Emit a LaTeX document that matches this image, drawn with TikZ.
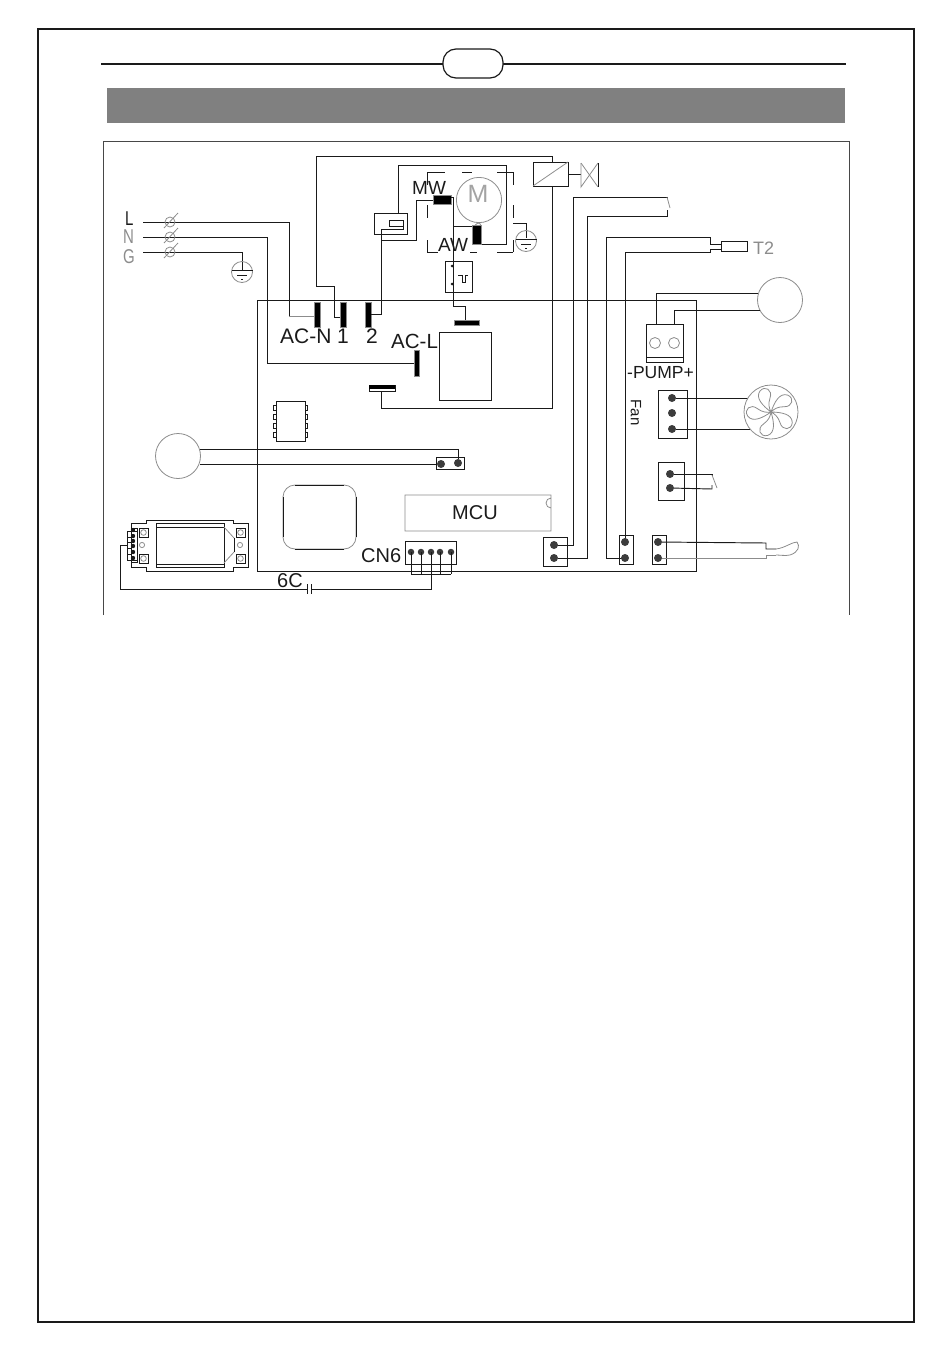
\documentclass[tikz,border=0pt]{standalone}
\usepackage{fontspec}
\setmainfont{Liberation Sans}
\definecolor{wire}{HTML}{1A1A1A}
\definecolor{thin}{HTML}{8C8C8C}
\tikzset{
    wirepath/.style={draw=wire,line width=0.95pt},
    graypath/.style={draw=thin,line width=0.8pt},
    plug/.style={draw=thin,fill=black,line width=0.5pt},
    pin/.style={circle,fill=wire!85,inner sep=0pt,minimum size=8pt},
    smallpin/.style={circle,fill=wire!85,inner sep=0pt,minimum size=6.5pt},
    label/.style={inner sep=0pt,anchor=base west,font=\fontsize{20}{20}\selectfont,text=wire},
    graylabel/.style={label,text=thin},
    mainslabel/.style={label,font=\fontsize{20}{20}\selectfont,xscale=0.75,transform shape},
    ground/.pic={
        \draw[graypath] (0,0) circle (10.5);
        \draw[wirepath] (-10.5,-1.5) -- (10.5,-1.5);
        \draw[wirepath] (-5,3.5) -- (5,3.5);
        \draw[wirepath] (-1,7) -- (1,7);
    },
    clamp/.pic={
        \draw[graypath] (0,0) circle (5);
        \draw[graypath] (-6,6) -- (8,-9);
    }
}
\begin{document}
\begin{tikzpicture}[x=1pt,y=-1pt]
    \useasboundingbox (0,0) rectangle (950,1352);
    % Page frame and header
    \draw[wirepath,line width=1.8pt] (38,29) rectangle (914,1322);
    \draw[wirepath,line width=1.8pt] (101,64) -- (846,64);
    \draw[wirepath,fill=white,line width=1.2pt,rounded corners=13pt] (443,49) rectangle (503,78);
    \fill[gray] (107,88) rectangle (845,123);
    \draw[wire!80,line width=0.8pt] (103,615) -- (103,141) -- (849,141) -- (849,615);

    % Mains
    \node[mainslabel] (lineL) at (125,225) {L};
    \node[mainslabel,text=thin] (lineN) at (123,243.5) {N};
    \node[mainslabel,text=thin] (lineG) at (123,263) {G};
    \draw[wirepath] (143,222) -- (289,222) -- (289,316);
    \draw[graypath] (289,316) -- (315,316);
    \draw[wirepath] (143,237) -- (267,237) -- (267,363) -- (414,363);
    \draw[wirepath] (143,252) -- (242,252) -- (242,270);
    \pic at (170,222) {clamp};
    \pic at (170,237) {clamp};
    \pic at (170,252) {clamp};
    \pic at (242,272) {ground};

    % Board
    \draw[wirepath] (257,571) -- (257,300) -- (696,300) -- (696,571) -- cycle;
    \draw[plug] (314,302) rectangle (320.5,327);
    \draw[plug] (340,302) rectangle (346,327);
    \draw[plug] (365,302) rectangle (371,327);
    \draw[plug] (414,350) rectangle (419,376);
    \draw[wirepath,line width=0.6pt] (369,385) rectangle (395,391);
    \fill[black] (369,385) rectangle (395,389);
    \draw[plug] (454,320) rectangle (479,325);
    \node[label,font=\fontsize{21}{21}\selectfont] (acn) at (280,343) {AC-N};
    \node[label,font=\fontsize{21}{21}\selectfont] (one) at (337,343) {1};
    \node[label,font=\fontsize{21}{21}\selectfont] (two) at (366,343) {2};
    \node[label,font=\fontsize{20.5}{21}\selectfont] (acl) at (391,348) {AC-L};
    \draw[wirepath] (439,332) rectangle (491,400);

    % Motor
    \draw[wirepath] (316,156) -- (552,156) -- (552,162);
    \draw[wirepath] (316,156) -- (316,286) -- (334,286) -- (334,317) -- (340,317);
    \draw[wirepath] (533,162) rectangle (568,186);
    \draw[graypath] (533,186) -- (568,162);
    \draw[wirepath] (568,174) -- (581,174);
    \draw[graypath] (581,163) -- (581,187) -- (598,163);
    \draw[graypath] (581,163) -- (598,187);
    \draw[wirepath] (598,163) -- (598,187);
    \draw[wirepath] (552,186) -- (552,408) -- (381,408) -- (381,391);
    \draw[wirepath] (398,213) -- (398,165) -- (506,165) -- (506,244) -- (481,244);
    \draw[wirepath] (374,213) rectangle (407,234);
    \draw[wirepath] (389,220) rectangle (403,226);
    \draw[wirepath] (371,314) -- (381,314) -- (381,229) -- (403,229) -- (403,226);
    \draw[wirepath] (433,200) -- (416,200) -- (416,240) -- (381,240);
    \foreach \xa/\xb in {427/445,462/472,497/513} \draw[wirepath] (\xa,172) -- (\xb,172);
    \foreach \xa/\xb in {427/438,470/477,497/513} \draw[wirepath] (\xa,252) -- (\xb,252);
    \foreach \ya/\yb in {172/185,205/218,240/252} {
        \draw[wirepath] (427,\ya) -- (427,\yb);
        \draw[wirepath] (513,\ya) -- (513,\yb);
    }
    \draw[graypath] (479,200) circle (22.6);
    \node[graylabel,text=thin!80,anchor=center,font=\fontsize{25}{25}\selectfont] (motorM) at (478,194) {M};
    \draw[plug] (433,195) rectangle (451,204);
    \draw[plug] (472,225) rectangle (481,244);
    \draw[wirepath] (451,197) -- (453,197) -- (453,306) -- (465,306) -- (465,320);
    \draw[wirepath] (453,226) -- (472,226);
    \draw[graypath] (481,226) arc[start angle=180,end angle=20,x radius=-3,y radius=-3];
    \node[label,font=\fontsize{19}{19}\selectfont] (mwlabel) at (412,194) {MW};
    \node[label,font=\fontsize{19}{19}\selectfont] (awlabel) at (438,251) {AW};
    \draw[wirepath] (513,223) -- (526,223) -- (526,238);
    \pic at (526,241) {ground};
    \draw[wirepath] (445,261) rectangle (472,292);
    \fill[wire] (452,266) circle (1.5) (452,284) circle (1.5);
    \draw[wirepath,line width=0.7pt] (458,275) -- (462,275) -- (462,282) -- (465,282) -- (465,275) -- (468,275);

    % Wires on the right
    \draw[wirepath] (557,545) -- (573,545) -- (573,197) -- (667,197) -- (667,198);
    \draw[wirepath] (558,558) -- (587,558) -- (587,216) -- (667,216) -- (667,210);
    \draw[graypath] (667,197) -- (670,208);
    \draw[wirepath] (622,558) -- (606,558) -- (606,237) -- (710,237) -- (710,244) -- (721,244);
    \draw[wirepath] (625,542) -- (625,252) -- (710,252) -- (710,249) -- (721,249);
    \draw[wirepath] (721,241) rectangle (747,251);
    \node[graylabel,font=\fontsize{18}{18}\selectfont] (ttwo) at (753,254) {T2};

    % Pump
    \draw[graypath] (780,300) circle (22.5);
    \draw[wirepath] (656,324) -- (656,293) -- (758,293);
    \draw[wirepath] (674,324) -- (674,310) -- (760,310);
    \draw[wirepath] (646,324) rectangle (683,362);
    \draw[wirepath] (646,357) -- (683,357);
    \draw[graypath] (655,343) circle (5.5);
    \draw[graypath] (674,343) circle (5.5);
    \node[label,font=\fontsize{17.5}{18}\selectfont] (pumplabel) at (627,378) {-PUMP+};

    % Fan
    \draw[wirepath] (658,390) rectangle (687,438);
    \node[pin] (fana) at (672,398) {};
    \node[pin] (fanb) at (672,413) {};
    \node[pin] (fanc) at (672,429) {};
    \draw[wirepath] (fana) -- (748,398);
    \draw[wirepath] (fanc) -- (750,429);
    \draw[graypath] (771,412) circle (27);
    \foreach \a in {0,72,144,216,288}
        \draw[graypath,shift={(771,412)},rotate=\a] (0,0) .. controls (-8,-6) and (-16,-14) .. (-11,-21) .. controls (-6,-27) and (2,-22) .. (-1,-14) .. controls (-3,-8) and (-2,-4) .. (0,0);
    \node[label,font=\fontsize{15}{15}\selectfont,anchor=center,rotate=-90] (fanlabel) at (636,412.5) {Fan};

    % Switch connector
    \draw[wirepath] (658,462) rectangle (684,500);
    \node[pin] (swa) at (670,474) {};
    \node[pin] (swb) at (670,488) {};
    \draw[wirepath] (swa) -- (712,474) -- (712,476);
    \draw[wirepath] (swb) -- (712,489) -- (712,485);
    \draw[graypath] (712,475) -- (717,488);

    % Chips on the board
    \draw[wirepath] (276,401) rectangle (305,441);
    \foreach \y in {408,417,426,435} {
        \draw[wirepath,line width=0.6pt] (273.5,\y-2.5) rectangle (276,\y+2.5);
        \draw[wirepath,line width=0.6pt] (305,\y-2.5) rectangle (307.5,\y+2.5);
    }
    \draw[graypath,rounded corners=12pt] (283,485) rectangle (356,549);
    \draw[wirepath] (295,485) -- (344,485);
    \draw[wirepath] (295,549) -- (344,549);
    \draw[wirepath] (283,497) -- (283,537);
    \draw[wirepath] (356,497) -- (356,537);
    \draw[graypath] (405,495) -- (551,495) -- (551,508) arc[start angle=90,end angle=270,radius=5] -- (551,531) -- (405,531) -- cycle;
    \node[label] (mculabel) at (452,519) {MCU};

    % Left sensor
    \draw[graypath] (178,456) circle (22.5);
    \draw[wirepath] (436,457) rectangle (464,469);
    \node[pin] (senb) at (441,464) {};
    \node[pin] (sena) at (458,463) {};
    \draw[wirepath] (200,449) -- (458,449) -- (sena);
    \draw[wirepath] (200,464) -- (senb);

    % Connectors along the bottom
    \draw[wirepath] (543,537) rectangle (567,566);
    \node[pin] (lowa) at (554,545) {};
    \node[pin] (lowb) at (554,558) {};
    \draw[wirepath] (619,535) rectangle (633,564);
    \node[pin] (ttwoa) at (625,542) {};
    \node[pin] (ttwob) at (625,558) {};
    \draw[wirepath] (652,535) rectangle (666,564);
    \node[pin] (proba) at (658,542) {};
    \node[pin] (probb) at (658,558) {};
    \draw[wirepath] (proba) -- (766,543) -- (766,549) -- (776,549);
    \draw[graypath] (probb) -- (766,558) -- (766,555) -- (776,555);
    \draw[graypath] (776,549) .. controls (785,548) and (792,542) .. (797,542) .. controls (800,546) and (799,552) .. (790,555) .. controls (785,556) and (780,555) .. (776,555);

    % CN6
    \node[label] (cnlabel) at (361,562) {CN6};
    \draw[wirepath] (405,541) rectangle (456,564);
    \foreach \x in {411,421,431,440,451} {
        \node[smallpin] at (\x,552) {};
        \draw[wirepath] (\x,552) -- (\x,574);
    }
    \draw[wirepath] (411,574) -- (451,574);
    \draw[wirepath] (431,574) -- (431,589) -- (311,589);
    \draw[wirepath] (307,589) -- (120,589) -- (120,545) -- (127,545);
    \draw[wirepath] (307,584) -- (307,594);
    \draw[wirepath] (311,584) -- (311,594);
    \node[label] (sixc) at (277,587) {6C};

    % Display module
    \draw[wirepath] (131,523) -- (146,523) -- (146,520) -- (233,520) -- (233,523) -- (248,523) -- (248,567) -- (233,567) -- (233,571) -- (146,571) -- (146,567) -- (131,567) -- cycle;
    \draw[wirepath] (156,523) rectangle (224,567);
    \draw[wirepath] (156,527) -- (224,527);
    \draw[wirepath] (156,564) -- (224,564);
    \foreach \x in {139,236} \foreach \y in {528,554} {
        \draw[wirepath] (\x,\y) rectangle ++(9,9);
        \draw[graypath] (\x+4.5,\y+4.5) circle (2.8);
    }
    \draw[graypath] (142,545) circle (2.6);
    \draw[graypath] (240,545) circle (2.6);
    \draw[graypath] (224,527) -- (234,538);
    \draw[graypath] (224,563) -- (234,552);
    \draw[wirepath] (234,538) -- (234,552);
    \draw[wirepath] (127,531) rectangle (137,560);
    \draw[wirepath] (131,528) rectangle (137,562);
    \foreach \y in {530,536,541,546,552,558} {
        \fill[wire] (133,\y) circle (2.2);
    }
    \foreach \y in {537,542.5,548,554} {
        \draw[wirepath,line width=0.6pt] (127,\y) -- (131,\y);
    }
\end{tikzpicture}
\end{document}
